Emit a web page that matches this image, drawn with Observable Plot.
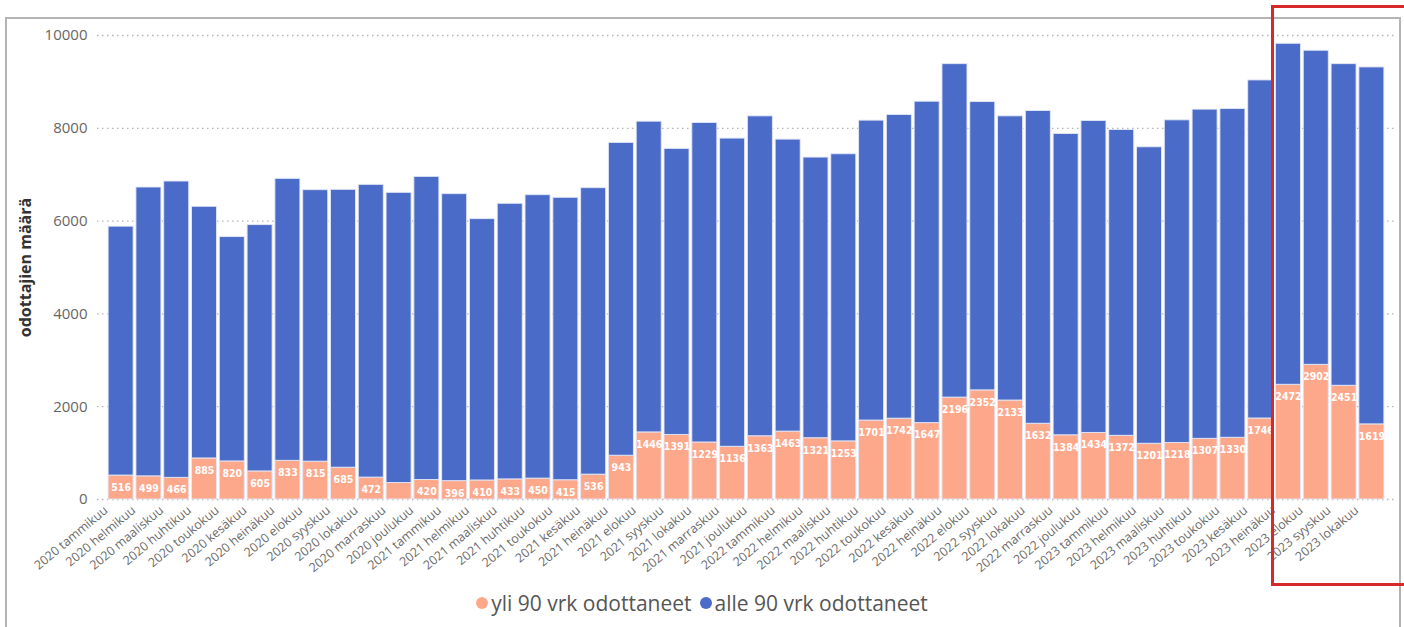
<!DOCTYPE html>
<html>
<head>
<meta charset="utf-8">
<script src="https://cdn.jsdelivr.net/npm/d3@7"></script>
<script src="https://cdn.jsdelivr.net/npm/@observablehq/plot@0.6"></script>
<style>
  body { margin: 0; background: #fff; font-family: "Open Sans", sans-serif; }
  #wrap { position: relative; width: 1404px; height: 627px; overflow: hidden; background: #fff; }
  #frame { position: absolute; left: 5px; top: 17px; width: 1396px; height: 660px; border: 2px solid #b4b4b4; box-sizing: border-box; }
  #chart { position: absolute; left: 0; top: 0; }
  #legend { position: absolute; left: 0; top: 589px; width: 1404px; display: flex; justify-content: center; align-items: center; font-size: 21px; color: #555; font-family: "Open Sans", sans-serif; }
  #legend .item { display: flex; align-items: center; margin: 0 4px; }
  #legend .dot { width: 12px; height: 12px; border-radius: 50%; margin-right: 3px; }
  #redbox { position: absolute; border: 3px solid #d62a2a; box-sizing: border-box; }
</style>
</head>
<body>
<div id="wrap">
  <div id="frame"></div>
  <div id="chart"></div>
  <div id="legend"></div>
  <div id="redbox"></div>
</div>
<script>
const months = [
  "2020 tammikuu","2020 helmikuu","2020 maaliskuu","2020 huhtikuu","2020 toukokuu","2020 kesäkuu",
  "2020 heinäkuu","2020 elokuu","2020 syyskuu","2020 lokakuu","2020 marraskuu","2020 joulukuu",
  "2021 tammikuu","2021 helmikuu","2021 maaliskuu","2021 huhtikuu","2021 toukokuu","2021 kesäkuu",
  "2021 heinäkuu","2021 elokuu","2021 syyskuu","2021 lokakuu","2021 marraskuu","2021 joulukuu",
  "2022 tammikuu","2022 helmikuu","2022 maaliskuu","2022 huhtikuu","2022 toukokuu","2022 kesäkuu",
  "2022 heinäkuu","2022 elokuu","2022 syyskuu","2022 lokakuu","2022 marraskuu","2022 joulukuu",
  "2023 tammikuu","2023 helmikuu","2023 maaliskuu","2023 huhtikuu","2023 toukokuu","2023 kesäkuu",
  "2023 heinäkuu","2023 elokuu","2023 syyskuu","2023 lokakuu"
];
// yli 90 vrk odottaneet (orange, bottom)
const yli = [
  516, 499, 466, 885, 820, 605, 833, 815, 685, 472, 355, 420,
  396, 410, 433, 450, 415, 536, 943, 1446, 1391, 1229, 1136, 1363,
  1463, 1321, 1253, 1701, 1742, 1647, 2196, 2352, 2133, 1632, 1384, 1434,
  1372, 1201, 1218, 1307, 1330, 1746, 2472, 2902, 2451, 1619
];
// alle 90 vrk odottaneet (blue, top)
const alle = [
  5364, 6225, 6387, 5423, 4836, 5309, 6077, 5852, 5989, 6309, 6254, 6533,
  6185, 5633, 5940, 6109, 6087, 6174, 6742, 6697, 6165, 6886, 6642, 6895,
  6293, 6048, 6188, 6464, 6545, 6926, 7187, 6214, 6125, 6741, 6494, 6724,
  6592, 6390, 6954, 7095, 7085, 7286, 7349, 6769, 6932, 7693
];
// labels shown on the orange segments (empty = hidden in the original)
const yliLabels = yli.map((v, i) => i === 10 ? "" : String(v));
const seriesNames = ["yli 90 vrk odottaneet", "alle 90 vrk odottaneet"];
const seriesColors = ["#fea88b", "#4a6bc7"];
const yTicks = [0, 2000, 4000, 6000, 8000, 10000];
const highlightFrom = "2023 heinäkuu";

const rows = [];
months.forEach((m, i) => rows.push({kk: m, sarja: seriesNames[0], arvo: yli[i]}));
months.forEach((m, i) => rows.push({kk: m, sarja: seriesNames[1], arvo: alle[i]}));
const labelRows = months.map((m, i) => ({kk: m, arvo: yli[i], label: yliLabels[i]})).filter(d => d.label);

const W = 1404, H = 580;
const chart = Plot.plot({
  width: W,
  height: H,
  marginLeft: 97,
  marginRight: 9,
  marginTop: 35,
  marginBottom: H - 499,
  style: {fontFamily: "'Open Sans', sans-serif", background: "transparent", overflow: "visible"},
  x: {domain: months, paddingInner: 0.1, paddingOuter: 0.4, label: null},
  y: {domain: [0, 10000], label: null},
  color: {domain: seriesNames, range: seriesColors},
  marks: [
    Plot.ruleY(yTicks, {stroke: "#b5b5b5", strokeDasharray: "1.5,3.5", strokeWidth: 1.3}),
    Plot.barY(rows, {x: "kk", y: "arvo", fill: "sarja", stroke: "#e4e8f6", strokeWidth: 1, strokeOpacity: 0.9}),
    Plot.text(labelRows, {x: "kk", y: "arvo", text: "label", dy: 12, fill: "white", fontSize: 10.5, fontWeight: "bold", fontFamily: "'DejaVu Sans Condensed', sans-serif"}),
    Plot.axisY({ticks: yTicks, tickSize: 0, tickPadding: 10, fontSize: 15, fill: "#666", label: null, tickFormat: d => String(d)}),
    Plot.axisX({tickSize: 0, tickRotate: -40, tickPadding: 4, fontSize: 12.5, fill: "#6a6a6a", label: null, dx: -15, dy: 5}),
    Plot.text(["odottajien määrä"], {frameAnchor: "left", dx: -72, rotate: -90, text: d => d, fontSize: 16, fontWeight: "bold", fill: "#333", textAnchor: "middle"})
  ]
});
document.getElementById("chart").appendChild(chart);

// legend
const legend = document.getElementById("legend");
seriesNames.forEach((n, i) => {
  const it = document.createElement("div");
  it.className = "item";
  const dot = document.createElement("span");
  dot.className = "dot";
  dot.style.background = seriesColors[i];
  const t = document.createElement("span");
  t.textContent = n;
  it.appendChild(dot); it.appendChild(t);
  legend.appendChild(it);
});

// highlight box around the latest months
const xs = chart.scale("x");
const left = xs.apply(highlightFrom) - 4;
const box = document.getElementById("redbox");
box.style.left = left + "px";
box.style.top = "5px";
box.style.width = (W - left + 10) + "px";
box.style.height = "581px";
</script>
</body>
</html>
